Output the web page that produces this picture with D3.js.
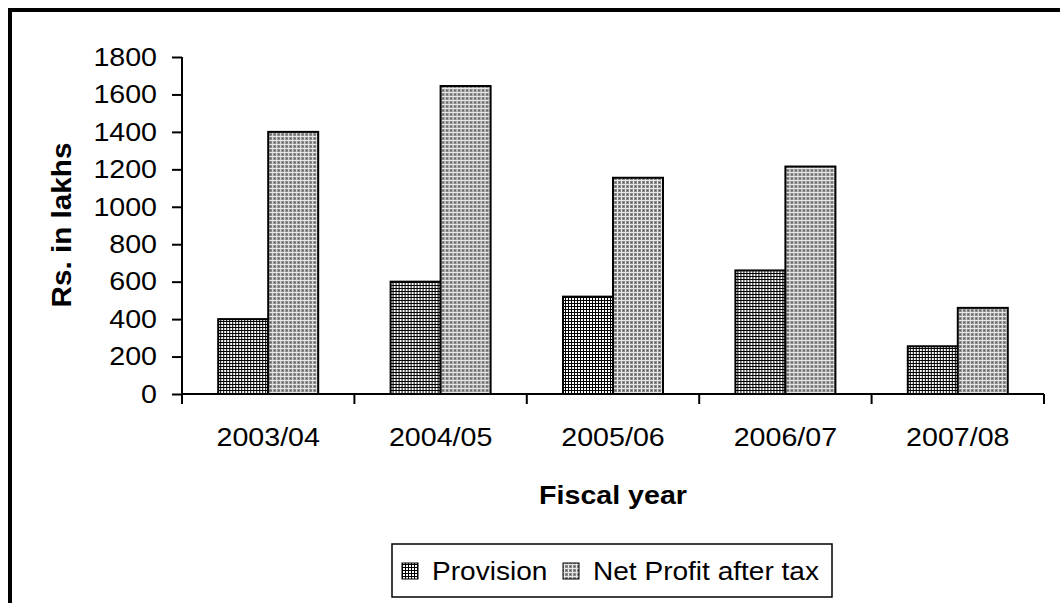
<!DOCTYPE html>
<html>
<head>
<meta charset="utf-8">
<script src="https://cdn.jsdelivr.net/npm/d3@7"></script>
<style>
  html, body { margin: 0; padding: 0; background: #fff; }
  svg { display: block; }
  text { font-family: "Liberation Sans", Arial, sans-serif; fill: #000; }
</style>
</head>
<body>
<div id="chart"></div>
<script>
// data
const years = ["2003/04", "2004/05", "2005/06", "2006/07", "2007/08"];
const provision = [400, 600, 520, 660, 255];
const netProfit = [1400, 1645, 1155, 1215, 460];
const seriesNames = ["Provision", "Net Profit after tax"];
const yTicks = [0, 200, 400, 600, 800, 1000, 1200, 1400, 1600, 1800];

const width = 1060, height = 603;
const svg = d3.select("#chart").append("svg")
  .attr("width", width)
  .attr("height", height);

// fill patterns (hatched look of the old spreadsheet chart)
const defs = svg.append("defs");
const p1 = defs.append("pattern").attr("id", "pat-prov")
  .attr("patternUnits", "userSpaceOnUse").attr("width", 3).attr("height", 3);
p1.append("rect").attr("width", 3).attr("height", 3).attr("fill", "#fff");
p1.append("rect").attr("width", 3).attr("height", 1).attr("fill", "#000");
p1.append("rect").attr("width", 1).attr("height", 3).attr("fill", "#000");

const p2 = defs.append("pattern").attr("id", "pat-net")
  .attr("patternUnits", "userSpaceOnUse").attr("width", 4).attr("height", 4);
p2.append("rect").attr("width", 4).attr("height", 4).attr("fill", "#8a8a8a");
p2.append("rect").attr("width", 4).attr("height", 1).attr("fill", "#e6e6e6");
p2.append("rect").attr("width", 1).attr("height", 4).attr("fill", "#e6e6e6");
p2.append("rect").attr("x", 2).attr("y", 2).attr("width", 1).attr("height", 1).attr("fill", "#555");

const fills = ["url(#pat-prov)", "url(#pat-net)"];

// outer frame (only top and left edges visible)
svg.append("line").attr("x1", 8).attr("x2", width).attr("y1", 10).attr("y2", 10)
  .attr("stroke", "#000").attr("stroke-width", 4);
svg.append("line").attr("x1", 10).attr("x2", 10).attr("y1", 8).attr("y2", height)
  .attr("stroke", "#000").attr("stroke-width", 4);

const plot = { left: 182, right: 1044, top: 57, bottom: 394 };

const x = d3.scaleBand().domain(years).range([plot.left, plot.right]).paddingInner(0).paddingOuter(0);
const y = d3.scaleLinear().domain([0, 1800]).range([plot.bottom, plot.top]);
const barW = 50;

const stretch = 1.1; // the original text is a bit wider than Arial

function label(sel, size, weight) {
  sel.attr("font-size", size).attr("font-weight", weight || "normal");
}

// y axis
const yAxis = svg.append("g").attr("transform", `translate(${plot.left},0)`)
  .call(d3.axisLeft(y).tickValues(yTicks).tickFormat(d3.format("d")).tickSize(10).tickPadding(15));
yAxis.select(".domain").attr("stroke", "#000").attr("stroke-width", 2).attr("d", `M0,${plot.top}V${plot.bottom}`);
yAxis.selectAll(".tick line").attr("stroke", "#000").attr("stroke-width", 2);
yAxis.selectAll(".tick text")
  .attr("font-family", "Liberation Sans, Arial, sans-serif")
  .attr("font-size", 26)
  .attr("fill", "#000")
  .attr("transform", function () {
    const xx = +d3.select(this).attr("x");
    return `translate(${xx * (1 - stretch)},0) scale(${stretch},1)`;
  });

// x axis
const xAxis = svg.append("g").attr("transform", `translate(0,${plot.bottom})`)
  .call(d3.axisBottom(x).tickSize(0).tickPadding(0).tickFormat(""));
xAxis.select(".domain").attr("stroke", "#000").attr("stroke-width", 2).attr("d", `M${plot.left},0H${plot.right}`);
xAxis.selectAll(".tick line").remove();
// tick marks between categories
const bounds = years.map(d => x(d)).concat([plot.right]);
svg.append("g").selectAll("line").data(bounds).join("line")
  .attr("x1", d => d).attr("x2", d => d)
  .attr("y1", plot.bottom).attr("y2", plot.bottom + 10)
  .attr("stroke", "#000").attr("stroke-width", 2);

svg.append("g").selectAll("text").data(years).join("text")
  .attr("text-anchor", "middle")
  .attr("transform", d => `translate(${x(d) + x.bandwidth() / 2},446) scale(${stretch},1)`)
  .call(label, 26)
  .text(d => d);

// bars
const groups = svg.append("g").selectAll("g").data(years).join("g")
  .attr("transform", d => `translate(${x(d) + x.bandwidth() / 2},0)`);
[provision, netProfit].forEach((vals, si) => {
  groups.append("rect")
    .attr("x", si === 0 ? -barW : 0)
    .attr("y", (d, i) => y(vals[i]))
    .attr("width", barW)
    .attr("height", (d, i) => plot.bottom - y(vals[i]))
    .attr("fill", fills[si])
    .attr("stroke", "#000")
    .attr("stroke-width", 2);
});

// axis titles
svg.append("text")
  .attr("text-anchor", "middle")
  .attr("transform", `translate(${(plot.left + plot.right) / 2},504) scale(${stretch},1)`)
  .call(label, 26, "bold")
  .text("Fiscal year");

svg.append("text")
  .attr("text-anchor", "middle")
  .attr("transform", `translate(71,225) rotate(-90) scale(${stretch},1)`)
  .call(label, 27, "bold")
  .text("Rs. in lakhs");

// legend
const legend = svg.append("g");
legend.append("rect")
  .attr("x", 392).attr("y", 544).attr("width", 440).attr("height", 53)
  .attr("fill", "#fff").attr("stroke", "#000").attr("stroke-width", 1.5);
const legX = [402, 563];
seriesNames.forEach((name, i) => {
  legend.append("rect")
    .attr("x", legX[i]).attr("y", 563).attr("width", 16).attr("height", 16)
    .attr("fill", fills[i]).attr("stroke", "#000").attr("stroke-width", 1);
  legend.append("text")
    .attr("transform", `translate(${legX[i] + 30},580) scale(${stretch},1)`)
    .call(label, 25.5)
    .text(name);
});
</script>
</body>
</html>
